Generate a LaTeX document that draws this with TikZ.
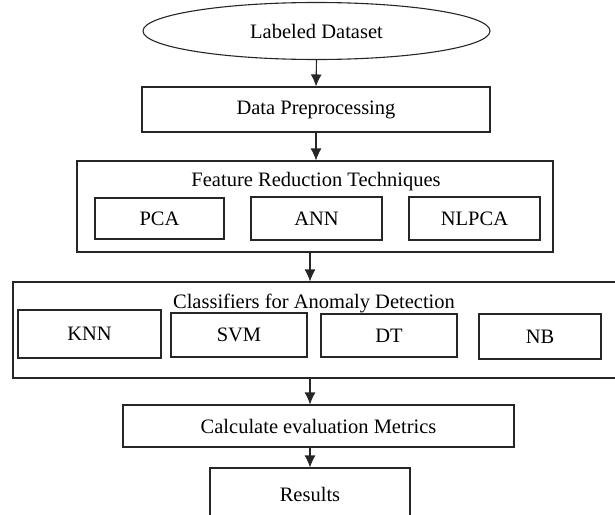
\documentclass[tikz,border=0pt]{standalone}
\usepackage{fontspec}
\setmainfont{Liberation Serif}
\usepackage{tikz}
\usetikzlibrary{arrows.meta,positioning,calc,shapes.geometric}

\begin{document}
\begin{tikzpicture}[
  x=1pt, y=-1pt,
  >={Latex[length=12pt,width=11pt]},
  font=\fontsize{20.5}{24}\selectfont,
  box/.style={
    draw=black!85,
    line width=1.1pt,
    rectangle,
    inner sep=0pt,
    align=center
  },
  oval/.style={
    box,
    ellipse
  },
  grp/.style={
    box
  },
  lab/.style={
    inner sep=0pt
  },
  edge/.style={
    draw=black!85,
    line width=1.1pt
  }
]
\useasboundingbox (0,0) rectangle (615,514);

% Main nodes
\node[oval, minimum width=347pt, minimum height=57pt] (ds) at (316.5,31) {Labeled Dataset};
\node[box, minimum width=348pt, minimum height=45pt] (pre) at (316,109.5) {Data Preprocessing};

% Feature reduction group
\node[grp, minimum width=476pt, minimum height=91pt] (fr) at (315,206.5) {};
\node[lab] (frt) at (316,182) {Feature Reduction Techniques};
\node[box, minimum width=129pt, minimum height=41pt] (pca) at (159.5,218.5) {PCA};
\node[box, minimum width=131pt, minimum height=43pt] (ann) at (316.5,218.5) {ANN};
\node[box, minimum width=131pt, minimum height=43pt] (nlpca) at (474.5,218.5) {NLPCA};

% Classifier group (runs past the right edge)
\node[grp, minimum width=620pt, minimum height=96pt] (cl) at (323,330) {};
\node[lab] (clt) at (314,303) {Classifiers for Anomaly Detection};
\node[box, minimum width=143pt, minimum height=48pt] (knn) at (89.5,334) {KNN};
\node[box, minimum width=136pt, minimum height=44pt] (svm) at (239,335) {SVM};
\node[box, minimum width=136pt, minimum height=43pt] (dt) at (389,335.5) {DT};
\node[box, minimum width=122pt, minimum height=45pt] (nb) at (540,336.5) {NB};

\node[box, minimum width=391pt, minimum height=42pt] (cal) at (318.5,426) {Calculate evaluation Metrics};
\node[box, minimum width=200pt, minimum height=52pt] (res) at (310,494) {Results};

% Edges
\draw[edge,->] (ds.south) -- (pre.north);
\draw[edge,->] (pre.south) -- (fr.north -| pre.south);
\draw[edge,->] (fr.south -| res.north) -- (cl.north -| res.north);
\draw[edge,->] (cl.south -| res.north) -- (cal.north -| res.north);
\draw[edge,->] (cal.south -| res.north) -- (res.north);

\end{tikzpicture}
\end{document}
